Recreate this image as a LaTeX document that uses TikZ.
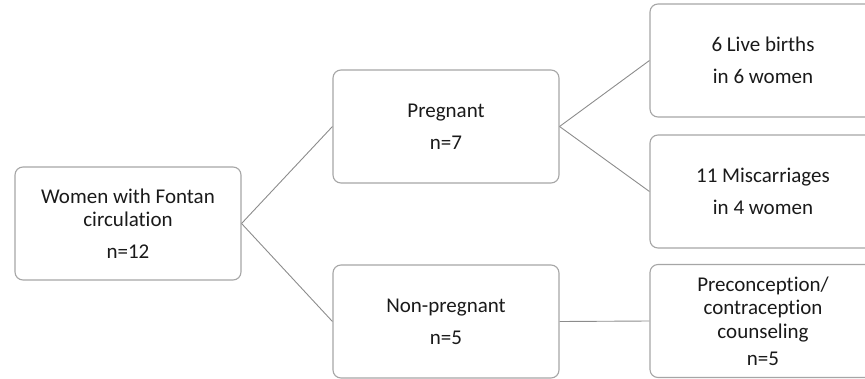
\documentclass[tikz,border=0pt]{standalone}
\usepackage{fontspec}
\setmainfont[Ligatures=NoCommon]{Carlito}
\definecolor{boxline}{HTML}{A6A6A6}
\definecolor{conn}{HTML}{8C8C8C}
\definecolor{txt}{HTML}{1A1A1A}
\begin{document}
\begin{tikzpicture}[x=1pt,y=-1pt,
  box/.style={draw=boxline, line width=1.1pt, rounded corners=8pt, fill=white,
    minimum width=226pt, minimum height=113pt, inner sep=0pt, align=center,
    text=txt, font=\fontsize{21}{23.5}\selectfont},
  link/.style={draw=conn, line width=0.9pt}]
\useasboundingbox (0,0) rectangle (865,378);
\clip (0,0) rectangle (865,378);
\node[box] (root) at (128,223.5) {Women with Fontan\\circulation\\[8.5pt]n=12};
\node[box] (preg) at (446,126.5) {Pregnant\\[8.5pt]n=7};
\node[box] (nonp) at (446,321.5) {Non-pregnant\\[8.5pt]n=5};
\node[box] (live) at (763,60.5) {6 Live births\\[8.5pt]in 6 women};
\node[box] (misc) at (763,191.5) {11 Miscarriages\\[8.5pt]in 4 women};
\node[box] (prec) at (763,321) {Preconception/\\contraception\\counseling\\[3.5pt]n=5};
\draw[link] (root.east) -- (preg.west);
\draw[link] (root.east) -- (nonp.west);
\draw[link] (preg.east) -- (live.west);
\draw[link] (preg.east) -- (misc.west);
\draw[link] (nonp.east) -- (prec.west);
\end{tikzpicture}
\end{document}
